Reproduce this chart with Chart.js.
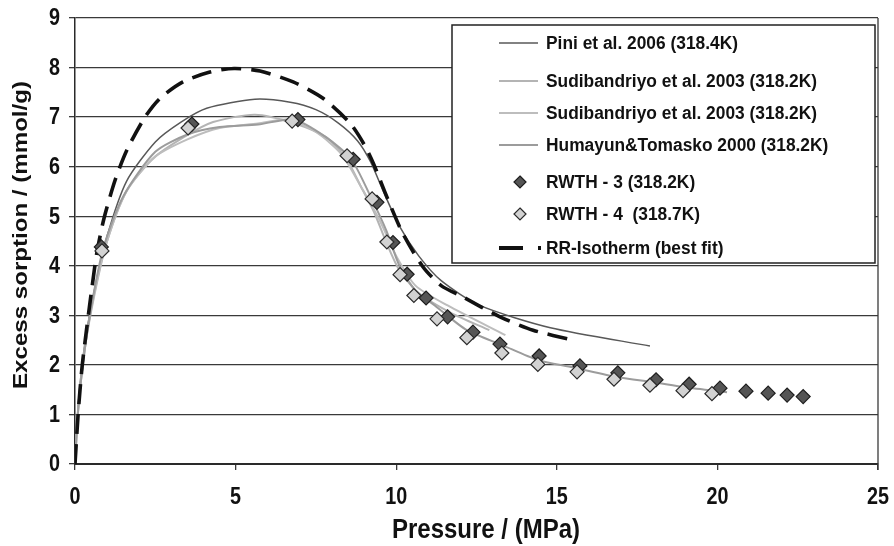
<!DOCTYPE html>
<html>
<head>
<meta charset="utf-8">
<script src="https://cdn.jsdelivr.net/npm/chart.js@4.4.1/dist/chart.umd.min.js"></script>
<style>
  html, body { margin: 0; padding: 0; background: #fff; }
  canvas { display: block; }
</style>
</head>
<body>
<canvas id="chart" width="894" height="546"></canvas>
<script>
// pressure (MPa), excess sorption (mmol/g)
var piniData = [[0,0],[0.1,1.2],[0.3,2.4],[0.6,3.5],[1.0,4.6],[1.6,5.7],[2.5,6.5],[3.3,6.9],[4.1,7.18],[5.6,7.36],[6.7,7.3],[7.5,7.15],[8.2,6.88],[8.8,6.52],[9.2,6.1],[9.6,5.5],[10.1,4.8],[10.7,4.2],[11.4,3.7],[12.6,3.2],[14.8,2.75],[17.9,2.38]];
var sudi1Data = [[0,0],[0.1,1.1],[0.3,2.3],[0.6,3.4],[1.0,4.5],[1.6,5.5],[2.4,6.15],[3.4,6.6],[4.3,6.9],[5.6,7.05],[6.8,6.88],[7.85,6.58],[8.5,6.1],[8.9,5.6],[9.3,5.1],[9.7,4.46],[10.1,3.91],[10.7,3.45],[11.7,3.05],[12.9,2.7]];
var sudi2Data = [[0,0],[0.1,1.1],[0.3,2.3],[0.6,3.45],[1.0,4.5],[1.6,5.5],[2.5,6.2],[3.5,6.55],[4.5,6.78],[5.7,6.87],[6.6,6.95],[7.5,6.7],[8.3,6.25],[8.9,5.6],[9.5,4.9],[10.0,4.2],[10.6,3.6],[11.6,3.2],[13.4,2.6]];
var humaData = [[0,0],[0.1,1.1],[0.3,2.3],[0.6,3.5],[0.9,4.4],[1.5,5.4],[2.5,6.3],[3.5,6.65],[4.5,6.8],[5.7,6.85],[6.8,6.95],[7.8,6.6],[8.6,6.15],[9.2,5.4],[9.7,4.7],[10.1,4.0],[10.6,3.5],[11.2,3.2],[12.2,2.7],[13.3,2.4],[14.4,2.1],[15.5,1.95],[16.9,1.75],[18.0,1.65],[19.0,1.55],[20.3,1.45]];
var rwth3Data = [[0.82,4.38],[3.64,6.86],[6.94,6.95],[8.66,6.15],[9.4,5.28],[9.9,4.47],[10.34,3.83],[10.93,3.35],[11.6,2.97],[12.39,2.66],[13.23,2.42],[14.45,2.18],[15.72,1.98],[16.9,1.84],[18.09,1.7],[19.12,1.61],[20.08,1.53],[20.89,1.47],[21.58,1.43],[22.17,1.39],[22.67,1.36]];
var rwth4Data = [[0.84,4.3],[3.52,6.78],[6.76,6.92],[8.47,6.22],[9.25,5.35],[9.71,4.48],[10.12,3.82],[10.55,3.4],[11.27,2.93],[12.2,2.55],[13.29,2.24],[14.41,2.01],[15.63,1.86],[16.78,1.71],[17.9,1.59],[18.93,1.48],[19.83,1.42]];
var rrData = [[0,0],[0.1,1.03],[0.22,1.96],[0.37,2.77],[0.53,3.57],[0.68,4.26],[0.9,4.95],[1.25,5.73],[1.62,6.34],[2.18,7.0],[2.65,7.38],[3.36,7.71],[4.2,7.91],[4.95,7.98],[5.76,7.93],[6.79,7.71],[7.72,7.38],[8.56,6.88],[9.0,6.45],[9.3,6.05],[9.71,5.39],[10.2,4.66],[10.83,3.98],[11.4,3.6],[12.08,3.37],[13.23,2.97],[14.26,2.7],[15.5,2.5]];

var seriesNames = ['Pini et al. 2006 (318.4K)', 'Sudibandriyo et al. 2003 (318.2K)', 'Sudibandriyo et al. 2003 (318.2K)', 'Humayun&Tomasko 2000 (318.2K)', 'RWTH - 3 (318.2K)', 'RWTH - 4  (318.7K)', 'RR-Isotherm (best fit)'];
var xTicks = [0, 5, 10, 15, 20, 25];
var yTicks = [0, 1, 2, 3, 4, 5, 6, 7, 8, 9];
var xTitle = 'Pressure / (MPa)';
var yTitle = 'Excess sorption / (mmol/g)';

var FONT = '"Liberation Sans", Arial, sans-serif';

function pts(a) { return a.map(function (p) { return { x: p[0], y: p[1] }; }); }

function lineSet(label, data, color, width, order) {
  return { label: label, data: pts(data), borderColor: color, backgroundColor: color, borderWidth: width,
    pointRadius: 0, tension: 0.25, showLine: true, order: order, fill: false };
}
function markSet(label, data, fillC, edge, order) {
  return { label: label, data: pts(data), showLine: false, pointStyle: 'rectRot', pointRadius: 7,
    pointBackgroundColor: fillC, pointBorderColor: edge, pointBorderWidth: 1.2,
    backgroundColor: fillC, borderColor: edge, order: order };
}

var datasets = [
  lineSet(seriesNames[0], piniData, '#585858', 1.5, 6),
  lineSet(seriesNames[1], sudi1Data, '#b4b4b4', 2, 5),
  lineSet(seriesNames[2], sudi2Data, '#bdbdbd', 2, 4),
  lineSet(seriesNames[3], humaData, '#9c9c9c', 2, 3),
  markSet(seriesNames[4], rwth3Data, '#555555', '#1e1e1e', 1),
  markSet(seriesNames[5], rwth4Data, '#d2d2d2', '#2a2a2a', 0),
  Object.assign(lineSet(seriesNames[6], rrData, '#111111', 3.6, 2), { borderDash: [20, 10] })
];

// text squeezed sideways the way the original figure is
function squeezed(ctx, text, x, y, align, sx) {
  ctx.save();
  ctx.translate(x, y);
  ctx.scale(sx, 1);
  ctx.textAlign = align;
  ctx.fillText(text, 0, 0);
  ctx.restore();
}

var axisText = {
  id: 'axisText',
  afterDraw: function (chart) {
    var ctx = chart.ctx;
    var xs = chart.scales.x, ys = chart.scales.y;
    ctx.save();
    ctx.fillStyle = '#111';
    ctx.textBaseline = 'middle';
    ctx.font = 'bold 23px ' + FONT;
    xTicks.forEach(function (v) { squeezed(ctx, String(v), xs.getPixelForValue(v), 498, 'center', 0.86); });
    yTicks.forEach(function (v) { squeezed(ctx, String(v), 60, ys.getPixelForValue(v) + 1, 'right', 0.86); });

    ctx.textBaseline = 'alphabetic';
    ctx.font = 'bold 27px ' + FONT;
    var w = ctx.measureText(xTitle).width;
    squeezed(ctx, xTitle, 392, 538, 'left', 188 / w);

    ctx.font = 'bold 20px ' + FONT;
    w = ctx.measureText(yTitle).width;
    ctx.save();
    ctx.translate(27, 389);
    ctx.rotate(-Math.PI / 2);
    squeezed(ctx, yTitle, 0, 0, 'left', 308 / w);
    ctx.restore();
    ctx.restore();
  }
};

// legend box drawn inside the plot, like the original
var boxLegend = {
  id: 'boxLegend',
  afterDraw: function (chart) {
    var ctx = chart.ctx;
    var bx = 452, by = 25, bw = 423, bh = 238;
    ctx.save();
    ctx.fillStyle = '#fff';
    ctx.fillRect(bx, by, bw, bh);
    ctx.strokeStyle = '#222';
    ctx.lineWidth = 1.5;
    ctx.strokeRect(bx, by, bw, bh);
    // right border of plot
    var a = chart.chartArea;
    ctx.beginPath();
    ctx.moveTo(a.right, a.top);
    ctx.lineTo(a.right, a.bottom + 6);
    ctx.strokeStyle = '#3a3a3a';
    ctx.lineWidth = 1.3;
    ctx.stroke();

    ctx.font = 'bold 18px ' + FONT;
    ctx.textBaseline = 'middle';
    var sx = 192 / ctx.measureText(seriesNames[0]).width;
    var rows = [43, 81, 113, 145, 182, 214, 248];
    chart.data.datasets.forEach(function (ds, i) {
      var y = rows[i];
      if (ds.showLine === false) {
        ctx.beginPath();
        ctx.moveTo(520, y - 6); ctx.lineTo(526, y); ctx.lineTo(520, y + 6); ctx.lineTo(514, y); ctx.closePath();
        ctx.fillStyle = ds.pointBackgroundColor; ctx.fill();
        ctx.strokeStyle = ds.pointBorderColor; ctx.lineWidth = 1.2; ctx.stroke();
      } else if (ds.borderDash) {
        ctx.fillStyle = ds.borderColor;
        ctx.fillRect(499, y - 2, 24, 4);
        ctx.fillRect(538, y - 2, 3, 4);
      } else {
        ctx.beginPath();
        ctx.moveTo(499, y); ctx.lineTo(538, y);
        ctx.strokeStyle = ds.borderColor; ctx.lineWidth = ds.borderWidth; ctx.stroke();
      }
      ctx.fillStyle = '#111';
      squeezed(ctx, ds.label, 546, y + 1, 'left', sx);
    });
    ctx.restore();
  }
};

new Chart(document.getElementById('chart').getContext('2d'), {
  type: 'scatter',
  data: { datasets: datasets },
  plugins: [boxLegend, axisText],
  options: {
    responsive: false,
    animation: false,
    layout: { padding: { top: 18, right: 16, left: 0, bottom: 0 } },
    plugins: { legend: { display: false }, tooltip: { enabled: false } },
    scales: {
      x: {
        type: 'linear', min: 0, max: 25,
        afterBuildTicks: function (s) { s.ticks = xTicks.map(function (v) { return { value: v }; }); },
        afterFit: function (s) { s.height = 82; },
        grid: { drawOnChartArea: false, tickLength: 6, color: '#3a3a3a', lineWidth: 1.3 },
        border: { color: '#2a2a2a', width: 2 },
        ticks: { display: false }
      },
      y: {
        type: 'linear', min: 0, max: 9,
        afterBuildTicks: function (s) { s.ticks = yTicks.map(function (v) { return { value: v }; }); },
        afterFit: function (s) { s.width = 75; },
        grid: { tickLength: 6, color: '#3a3a3a', lineWidth: 1.3 },
        border: { color: '#2a2a2a', width: 1.5 },
        ticks: { display: false }
      }
    }
  }
});
</script>
</body>
</html>
